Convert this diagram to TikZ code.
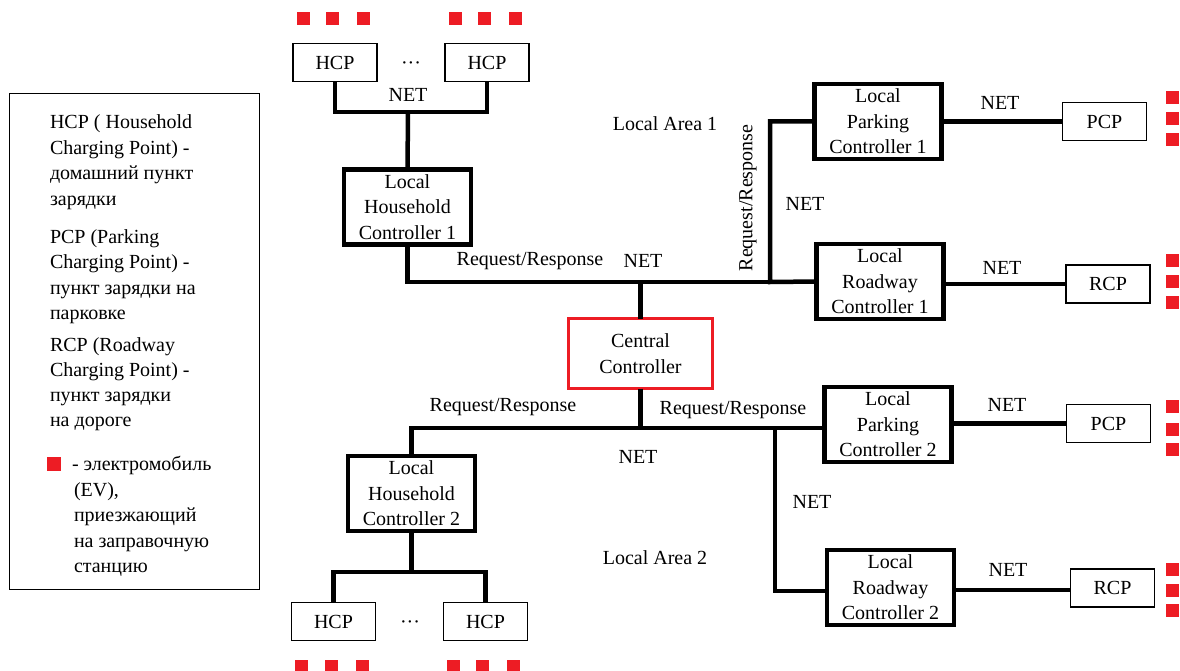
\documentclass[tikz,border=0pt]{standalone}
\usepackage{fontspec}
\setmainfont{Liberation Serif}
\definecolor{evred}{RGB}{237,28,36}
\begin{document}
\begin{tikzpicture}[x=1pt,y=-1pt,
  every node/.style={font=\fontsize{20}{25.5}\selectfont, inner sep=0pt, outer sep=0pt},
  pointbox/.style={draw=black, line width=1.4pt, minimum width=84pt, minimum height=38pt},
  ctrl/.style={draw=black, line width=4.2pt, align=center, minimum width=127pt, minimum height=75pt},
  central/.style={draw=evred, line width=3.5pt, align=center, minimum width=144pt, minimum height=70pt},
  conn/.style={line width=4.5pt},
  ev/.style={fill=evred, minimum size=13pt},
  legend/.style={anchor=base west}
]
\useasboundingbox (0,0) rectangle (1180,671);

% Legend
\node[draw=black, line width=1.4pt, minimum width=250pt, minimum height=496pt] (legendbox) at (134.5,341.5) {};
\node[legend] (l1) at (50,129) {HCP ( Household};
\node[legend] (l2) at (50,154.5) {Charging Point) -};
\node[legend] (l3) at (50,180) {домашний пункт};
\node[legend] (l4) at (50,205.5) {зарядки};
\node[legend] (l5) at (50,243) {PCP (Parking};
\node[legend] (l6) at (50,268.5) {Charging Point) -};
\node[legend] (l7) at (50,294) {пункт зарядки на};
\node[legend] (l8) at (50,319) {парковке};
\node[legend] (l9) at (50,351) {RCP (Roadway};
\node[legend] (l10) at (50,376.5) {Charging Point) -};
\node[legend] (l11) at (50,401) {пункт зарядки};
\node[legend] (l12) at (50,426) {на дороге};
\node[ev, minimum size=14pt] (evlegend) at (54,463.5) {};
\node[legend] (l13) at (72,470) {- электромобиль};
\node[legend] (l14) at (74,496) {(EV),};
\node[legend] (l15) at (74,521.5) {приезжающий};
\node[legend] (l16) at (74,547) {на заправочную};
\node[legend] (l17) at (74,572.5) {станцию};

% Household branch 1
\node[pointbox] (hcpA) at (335,62.5) {HCP};
\node[pointbox] (hcpB) at (487,62.5) {HCP};
\node (dotsA) at (411,66) {···};
\node (netA) at (408,95) {NET};
\coordinate (jA) at (408,112);
\node[ctrl] (lhc1) at (407.5,207) {Local\\Household\\Controller 1};

% Household branch 2
\node[ctrl] (lhc2) at (411.5,493.5) {Local\\Household\\Controller 2};
\coordinate (jB) at (411.5,572);
\node[pointbox] (hcpC) at (333.5,621.5) {HCP};
\node[pointbox] (hcpD) at (485.5,621.5) {HCP};
\node (dotsB) at (410,625) {···};

% Central
\node[central] (cc) at (640.5,353.5) {Central\\Controller};

% Area 1 right side
\node[ctrl] (lpc1) at (878,121.5) {Local\\Parking\\Controller 1};
\node[ctrl] (lrc1) at (880,281.5) {Local\\Roadway\\Controller 1};
\node[pointbox] (pcp1) at (1104.5,121.5) {PCP};
\node[pointbox] (rcp1) at (1108,284) {RCP};
\coordinate (t1) at (770,282);

% Area 2 right side
\node[ctrl] (lpc2) at (888,424.5) {Local\\Parking\\Controller 2};
\node[ctrl] (lrc2) at (890.5,587.5) {Local\\Roadway\\Controller 2};
\node[pointbox] (pcp2) at (1108.5,423.5) {PCP};
\node[pointbox] (rcp2) at (1112.5,588) {RCP};
\coordinate (t2) at (775,428);

% Labels
\node (rr1) at (530,261) {Request/Response};
\node (net1) at (643,261) {NET};
\node (area1) at (665,124) {Local Area 1};
\node[rotate=90] (rr2) at (748,198) {Request/Response};
\node (net2) at (805,204) {NET};
\node (net3) at (1000,103) {NET};
\node (net4) at (1002,268) {NET};
\node (rr3) at (503,407) {Request/Response};
\node (rr4) at (733,410) {Request/Response};
\node (net5) at (638,457) {NET};
\node (net6) at (1007,405) {NET};
\node (net7) at (812,502) {NET};
\node (net8) at (1008,570) {NET};
\node (area2) at (655,558) {Local Area 2};

% Connectors
\draw[conn] (hcpA.south) |- (jA) -| (hcpB.south);
\draw[conn] (jA) -- (lhc1.north);
\draw[conn] (lhc1.south) |- (t1);
\draw[conn] (cc.north) -- (cc.north |- t1);
\draw[conn] (lpc1.west) -| (t1) -- (lrc1.west);
\draw[conn] (lpc1.east) -- (pcp1.west);
\draw[conn] (lrc1.east |- rcp1.west) -- (rcp1.west);

\draw[conn] (cc.south) -- (cc.south |- t2);
\draw[conn] (lhc2.north) |- (lpc2.west |- t2);
\draw[conn] (t2) |- (lrc2.west |- 0,591);
\draw[conn] (lpc2.east |- pcp2.west) -- (pcp2.west);
\draw[conn] (lrc2.east |- 0,590) -- (rcp2.west |- 0,590);
\draw[conn] (lhc2.south) -- (jB);
\draw[conn] (hcpC.north) |- (jB) -| (hcpD.north);

% EV squares
\foreach \x [count=\i] in {303,332.5,363.5,455,484,515} {
  \node[ev] (evtop\i) at (\x,19) {};
  \node[ev] (evbot\i) at (\x-1.5,666) {};
}
\foreach \y [count=\i] in {98,118.5,139.5} { \node[ev] (evp1\i) at (1172,\y) {}; }
\foreach \y [count=\i] in {260,281.5,302.5} { \node[ev] (evr1\i) at (1172,\y) {}; }
\foreach \y [count=\i] in {406.5,429.5,449.5} { \node[ev] (evp2\i) at (1172,\y) {}; }
\foreach \y [count=\i] in {569,590,610.5} { \node[ev] (evr2\i) at (1172,\y) {}; }
\end{tikzpicture}
\end{document}
